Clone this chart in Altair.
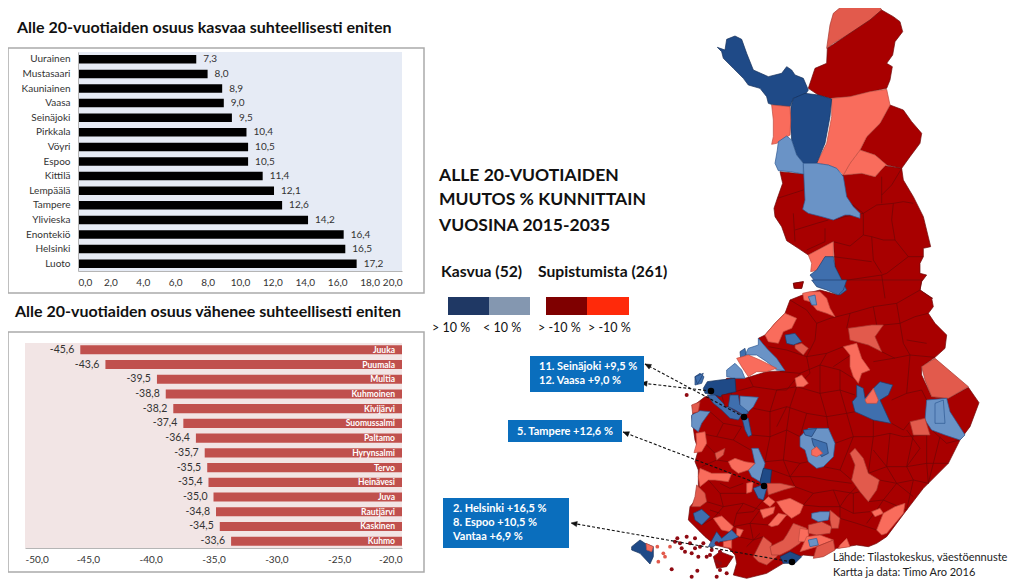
import altair as alt
import pandas as pd
import numpy as np

FONT = "Lato"
W, H = 1008, 574

# ---------- bar charts ----------
up_names = ["Uurainen","Mustasaari","Kauniainen","Vaasa","Seinäjoki","Pirkkala","Vöyri","Espoo","Kittilä","Lempäälä","Tampere","Ylivieska","Enontekiö","Helsinki","Luoto"]
up_values = [7.3,8.0,8.9,9.0,9.5,10.4,10.5,10.5,11.4,12.1,12.6,14.2,16.4,16.5,17.2]
up_ticks = [0,2,4,6,8,10,12,14,16,18,20]

down_names = ["Juuka","Puumala","Multia","Kuhmoinen","Kivijärvi","Suomussalmi","Paltamo","Hyrynsalmi","Tervo","Heinävesi","Juva","Rautjärvi","Kaskinen","Kuhmo"]
down_values = [-45.6,-43.6,-39.5,-38.8,-38.2,-37.4,-36.4,-35.7,-35.5,-35.4,-35.0,-34.8,-34.5,-33.6]
down_ticks = [-50,-45,-40,-35,-30,-25,-20]

# ---------- map ----------
# frame A: northern crop, frame B: southern crop (both 3x picture pixels)
NORTH_REGIONS = [
 ("dark", [(270,515),(340,522),(460,525),(515,520),(555,530),(585,497),(635,505),(640,540),(670,590),(700,650),(722,740),(700,745),(700,770),(690,790),(690,820),(710,825),(695,845),(690,870),(728,895),(470,895),(470,870),(435,800),(430,725),(355,765),(325,745),(290,722),(275,680),(255,650),(252,625),(262,595),(278,550)]),
 ("mid", [(410,145),(420,75),(430,40),(460,15),(500,15),(520,0),(555,0),(575,30),(540,60),(480,100),(430,130)]),
 ("dark", [(575,30),(610,50),(630,65),(638,95),(615,125),(608,165),(590,190),(607,200),(600,240),(590,265),(540,275),(480,290),(420,295),(385,285),(355,265),(365,235),(375,205),(410,190),(412,145),(480,100),(540,60)]),
 ("dark", [(600,315),(640,330),(665,365),(695,400),(690,430),(660,470),(635,505),(590,495),(555,465),(510,450),(530,410),(570,370)]),
 ("light", [(510,450),(555,465),(590,495),(585,497),(555,530),(515,520),(460,525),(480,490)]),
 ("light", [(425,295),(480,290),(540,275),(590,268),(600,315),(570,370),(530,410),(510,450),(480,490),(460,525),(440,505),(415,495),(380,490),(410,430),(425,350)]),
 ("navy", [(82,142),(105,150),(110,118),(135,108),(155,118),(170,160),(190,210),(235,230),(275,220),(290,200),(305,210),(315,225),(340,235),(355,270),(345,285),(310,295),(300,320),(250,315),(235,310),(230,290),(210,265),(175,255),(160,235),(130,205),(100,175),(95,155)]),
 ("navy", [(310,295),(345,280),(385,285),(425,297),(420,350),(405,430),(380,490),(340,490),(320,465),(305,420),(300,360),(303,320)]),
 ("light", [(245,315),(300,320),(302,360),(300,405),(260,430),(245,433),(250,410),(250,360)]),
 ("sky", [(290,408),(305,420),(320,465),(340,490),(340,522),(300,515),(265,512),(255,490),(262,450),(265,425)]),
 ("sky", [(340,490),(380,490),(415,495),(440,505),(460,530),(470,590),(490,620),(510,640),(510,655),(480,645),(465,645),(430,660),(395,650),(355,640),(338,628),(345,600),(343,560)]),
 ("light", [(355,765),(430,725),(430,770),(405,770),(385,810),(362,815),(365,790)]),
 ("blue", [(405,770),(430,770),(435,800),(470,870),(450,885),(420,865),(380,850),(360,825),(380,810)]),
 ("dark", [(310,850),(340,845),(335,865),(312,865)]),
]
NORTH_LINES = [
 [(310,640),(315,725)],[(315,690),(380,670),(415,660)],[(405,685),(405,725),(350,750)],
 [(430,660),(465,650),(520,640),(520,705),(480,738),(430,725)],
 [(520,640),(560,615),(610,610),(640,605),(670,610)],[(575,530),(575,610)],
 [(610,610),(605,660),(615,720),(655,770)],[(520,705),(545,710),(580,720),(615,720)],
 [(545,710),(550,780),(575,820)],[(430,770),(545,785)],[(700,770),(655,770),(590,820),(575,825),(440,845)],
 [(635,505),(605,555),(575,585)],[(262,595),(340,570)],[(575,825),(585,895)],
 [(645,350),(600,420),(590,495)],[(470,600),(520,640)],
]
SOUTH_REGIONS = [
 ("dark", [(660,0),(905,0),(900,30),(935,55),(940,80),(925,100),(945,130),(980,165),(975,205),(945,232),(905,260),(905,285),(935,350),(985,355),(1045,322),(1077,368),(1050,440),(1020,480),(985,550),(910,625),(860,690),(800,770),(770,790),(745,800),(710,795),(650,805),(600,830),(550,825),(490,850),(440,880),(380,895),(340,885),(350,850),(345,825),(325,805),(285,795),(255,770),(240,755),(205,720),(210,680),(235,650),(235,570),(225,545),(235,510),(225,480),(215,410),(230,370),(255,350),(280,350),(320,295),(375,295),(440,275),(495,272),(465,235),(440,205),(415,175),(435,165),(465,130),(495,100),(510,60),(560,40),(600,30),(655,45),(670,30)]),
 ("dark", [(280,830),(300,815),(340,830),(320,860),(290,865)]),
 ("dark", [(520,10),(550,5),(545,25),(525,25)]),
 ("blue", [(575,0),(680,0),(670,30),(655,45),(620,30),(590,20)]),
 ("light", [(548,40),(570,35),(600,35),(620,55),(630,85),(645,110),(620,100),(590,90),(570,65),(552,60)]),
 ("sky", [(565,50),(585,45),(590,75),(575,75)]),
 ("light", [(495,100),(530,115),(515,145),(490,155),(475,190),(445,185),(435,165),(465,130)]),
 ("blue", [(495,165),(525,160),(545,185),(520,195),(500,190)]),
 ("mid", [(525,195),(545,190),(565,205),(550,225),(525,205)]),
 ("sky", [(415,175),(440,205),(470,235),(495,272),(470,270),(440,245),(410,225),(375,225),(385,205),(415,195)]),
 ("blue", [(360,215),(375,205),(378,225),(362,235)]),
 ("light", [(350,235),(385,225),(420,240),(470,265),(440,275),(410,275),(385,290),(365,260)]),
 ("sky", [(320,270),(345,250),(365,270),(375,295),(345,295),(320,290)]),
 ("blue", [(225,290),(240,280),(252,290),(245,310),(225,315)]),
 ("navy", [(262,305),(300,300),(345,295),(348,335),(325,340),(300,350),(285,345),(255,340),(250,325)]),
 ("blue", [(285,345),(310,370),(340,390),(365,405),(355,420),(330,415),(305,390),(280,370),(262,345)]),
 ("dark", [(305,345),(335,340),(330,380),(315,380)]),
 ("blue", [(330,345),(355,345),(360,375),(375,380),(385,400),(370,405),(345,390),(325,380)]),
 ("sky", [(360,348),(415,352),(400,380),(385,395),(360,375)]),
 ("blue", [(365,410),(385,415),(395,465),(385,470),(375,450)]),
 ("sky", [(215,405),(240,392),(270,395),(245,430),(235,455),(215,440)]),
 ("mid", [(215,375),(240,365),(235,395),(218,400)]),
 ("light", [(228,460),(255,455),(260,490),(245,515),(222,518),(230,490)]),
 ("mid", [(285,520),(315,505),(310,525),(290,540)]),
 ("sky", [(395,505),(415,505),(435,550),(430,570),(420,605),(395,590),(385,570),(405,550)]),
 ("navy", [(430,565),(455,570),(450,615),(430,625),(420,605)]),
 ("blue", [(400,625),(425,615),(440,625),(430,660),(415,655)]),
 ("light", [(325,545),(345,535),(375,545),(405,550),(385,570),(355,580),(335,565)]),
 ("light", [(240,565),(275,580),(335,580),(325,605),(285,600),(265,600),(240,620),(235,590)]),
 ("light", [(380,610),(400,605),(395,635),(380,640)]),
 ("mid", [(440,610),(480,610),(525,620),(490,630),(445,645)]),
 ("light", [(445,650),(465,665),(450,680),(430,665)]),
 ("light", [(470,665),(510,655),(550,675),(540,700),(515,715),(490,695)]),
 ("light", [(420,690),(465,680),(460,700),(430,715)]),
 ("light", [(445,735),(475,700),(500,705),(475,735),(455,740)]),
 ("mid", [(230,615),(255,640),(260,665),(240,680),(215,680),(225,650)]),
 ("blue", [(220,700),(245,688),(270,710),(245,735),(225,720)]),
 ("light", [(280,715),(305,708),(340,740),(330,755),(305,750)]),
 ("blue", [(265,800),(290,755),(305,775),(335,750),(355,770),(335,780),(300,785),(280,800)]),
 ("light", [(350,745),(370,750),(360,770),(350,765)]),
 ("light", [(310,785),(335,780),(335,805),(310,800)]),
 ("mid", [(400,830),(430,770),(455,790),(455,800),(490,800),(470,830),(440,855),(415,845)]),
 ("mid", [(450,800),(490,780),(500,765),(520,730),(560,745),(540,790),(510,810),(480,825),(455,825)]),
 ("light", [(540,745),(570,750),(560,785),(535,785)]),
 ("mid", [(565,735),(605,725),(635,740),(630,760),(590,765),(565,760)]),
 ("sky", [(575,700),(600,695),(630,695),(625,720),(595,725),(575,715)]),
 ("mid", [(630,690),(660,715),(655,745),(635,745),(630,720)]),
 ("light", [(560,770),(600,765),(640,780),(590,800),(540,815)]),
 ("sky", [(565,780),(590,775),(595,795),(570,800)]),
 ("mid", [(590,800),(640,780),(645,810),(610,830),(580,835)]),
 ("navy", [(480,830),(510,815),(545,830),(525,850),(490,850)]),
 ("light", [(660,795),(680,775),(690,800),(655,805)]),
 ("light", [(770,750),(790,700),(825,680),(855,670),(850,700),(800,760),(785,765)]),
 ("light", [(755,695),(780,685),(790,700),(765,710)]),
 ("mid", [(690,520),(705,505),(730,535),(745,580),(778,600),(770,630),(745,665),(720,635),(695,600),(705,555)]),
 ("mid", [(685,145),(755,135),(790,135),(765,170),(785,215),(745,195),(690,180)]),
 ("light", [(670,200),(710,190),(725,235),(750,270),(725,280),(715,310),(700,290),(690,260),(690,225)]),
 ("light", [(525,295),(545,285),(565,310),(550,320),(530,320)]),
 ("blue", [(710,315),(730,325),(735,355),(760,325),(780,305),(818,315),(805,345),(780,360),(812,430),(760,420),(705,395),(697,365),(710,350)]),
 ("light", [(735,360),(760,325),(775,360),(770,370),(740,370)]),
 ("sky", [(540,470),(565,445),(625,445),(645,490),(640,530),(610,560),(590,565),(565,545),(555,510),(540,500)]),
 ("blue", [(550,450),(590,445),(575,470),(555,465)]),
 ("blue", [(575,475),(620,490),(625,520),(605,530),(580,495)]),
 ("light", [(575,510),(590,500),(608,520),(590,530),(575,525)]),
 ("mid", [(905,260),(945,235),(1045,320),(985,355),(935,350),(915,300)]),
 ("sky", [(920,360),(980,355),(990,395),(1035,465),(1020,480),(975,465),(935,450),(915,420)]),
 ("sky", [(945,370),(970,360),(975,430),(945,430)]),
 ("mid", [(870,425),(915,415),(930,465),(880,465)]),
 ("navy", [(35,800),(60,780),(75,790),(100,800),(100,830),(90,852),(60,820),(35,810)]),
 ("light", [(78,790),(100,800),(95,815),(80,810)]),
 ("blue", [(225,290),(250,280),(240,300),(232,312)]),
]
SOUTH_LINES = [
 [(510,60),(560,90),(590,130),(630,115),(690,100),(760,80),(830,70),(900,30)],
 [(445,200),(500,210),(560,230),(620,220),(670,200)],[(790,135),(840,130),(885,110),(925,100)],
 [(480,275),(540,280),(600,255),(660,270),(700,295)],[(760,245),(820,235),(870,225),(945,232)],
 [(345,335),(400,320),(470,330),(530,320),(600,340),(660,330),(705,345)],[(815,360),(860,340),(905,330),(920,360)],
 [(400,385),(450,395),(500,380),(560,400),(620,410),(680,400),(705,395)],[(815,430),(850,450),(870,425)],
 [(270,395),(310,430),(365,440)],[(395,465),(450,470),(500,450),(540,470)],
 [(645,490),(700,470),(760,470),(810,460),(850,470),(920,465)],[(935,450),(980,490),(1018,480)],
 [(240,460),(290,470),(340,480),(392,510)],[(255,490),(285,520),(290,540),(325,545)],
 [(435,545),(490,540),(540,550),(565,545)],[(610,560),(660,570),(695,600)],
 [(745,580),(800,560),(860,560),(920,550),(985,550)],[(455,570),(510,590),(570,590),(620,600),(695,610)],
 [(778,600),(830,610),(880,600),(925,610)],[(525,620),(580,640),(640,630),(700,640),(720,635)],
 [(745,665),(790,660),(860,690)],[(550,675),(600,680),(660,680),(700,700),(750,695)],
 [(265,600),(300,640),(340,640),(380,640)],[(260,665),(310,680),(370,670),(420,690)],[(245,735),(280,715)],
 [(340,740),(390,730),(445,735)],[(355,770),(400,780),(430,770)],[(660,715),(710,730),(770,750)],
 [(590,130),(585,180),(560,230),(570,280),(530,320),(510,380),(500,450),(490,540),(510,590),(525,620)],
 [(690,100),(680,145)],[(760,80),(770,135)],[(840,130),(830,70)],[(825,235),(785,215)],[(860,340),(870,225)],
 [(470,330),(450,395),(450,470),(435,545)],[(400,320),(385,290)],
 [(620,220),(600,255),(600,340),(620,410),(625,445)],[(660,270),(660,330),(680,400),(700,470),(660,570)],
 [(760,420),(760,470),(745,580)],[(810,460),(800,560),(830,610),(790,660)],[(880,465),(860,560),(880,600),(860,690)],
 [(920,465),(920,550),(925,610)],[(310,430),(290,470)],[(365,440),(340,480)],[(370,670),(350,700),(340,740)],
 [(300,640),(310,680),(280,715)],[(580,640),(550,675)],[(640,630),(660,680),(660,715)],[(700,640),(700,700)],
 [(420,690),(390,730),(400,780)],[(510,590),(540,550)],
 [(300,610),(330,625),(370,610)],[(270,690),(300,700)],[(350,700),(400,695),(430,660)],[(245,560),(290,540)],
 [(540,280),(500,330),(470,330)],[(500,380),(470,440)],[(560,400),(540,470)],[(830,610),(880,650)],
 [(800,560),(760,510)],[(860,450),(900,505),(860,560)],[(960,470),(940,550),(925,610)],[(380,800),(420,760)],
 [(740,730),(770,690),(790,660)],[(710,620),(680,650),(660,680)],[(700,220),(640,260)],[(860,180),(920,190)],
 [(840,130),(850,190),(870,225)],
]
ISLANDS_DARK = [(172,775),(180,790),(200,770),(210,790),(225,775),(195,815),(215,820),(240,800),(250,790),(235,830),(260,830),(275,810),(290,790),(300,815),(155,868),(232,872),(215,890),(290,890),(200,345),(320,880),(300,870),(290,845),(185,805),(165,785),(225,805),(270,825),(300,850)]
ISLANDS_LIGHT = [(112,800),(115,845),(150,800),(135,830),(130,820)]

# callouts: start on the map, tip at the label (picture pixels)
ARROWS = [((744,417),(645,364)),((711,391),(641,383)),((764,486),(623,432)),((792,562),(571,523))]
TOWN_DOTS = [(711,391),(744,417),(764,486),(792,562)]

CLASSES = ["dark","mid","light","navy","blue","sky"]
FILLS = ["#a80000","#e25a4c","#f96c5c","#1f4a87","#3f6fae","#6a93c6"]
EDGES = ["#6e0b0b","#a83a30","#c24d40","#16305c","#1f3f70","#2f5a94"]

def fa(p): return [690 + p[0]/3, p[1]/3]
def fb(p): return [620 + p[0]/3, 280 + p[1]/3]

def poly(cls, pts, f):
    ring = [f(p) for p in pts]
    ring.append(ring[0])
    return {"type":"Feature","properties":{"cls":cls},"geometry":{"type":"Polygon","coordinates":[ring]}}
def line(pts):
    return {"type":"Feature","properties":{},"geometry":{"type":"LineString","coordinates":[list(p) for p in pts]}}
def coll(fs):
    return alt.InlineData(values={"type":"FeatureCollection","features":fs}, format=alt.DataFormat(property="features", type="json"))

features = [poly(c,p,fa) for c,p in NORTH_REGIONS[:1]] + [poly(SOUTH_REGIONS[0][0],SOUTH_REGIONS[0][1],fb)]
base_features = features
over_features = [poly(c,p,fa) for c,p in NORTH_REGIONS[1:]] + [poly(c,p,fb) for c,p in SOUTH_REGIONS[1:]]
cscale = alt.Scale(domain=CLASSES, range=FILLS)
sscale = alt.Scale(domain=CLASSES, range=EDGES)
PROJ = dict(type="identity", scale=1, translate=[-8,-8])

inner = [line([fa(p) for p in l]) for l in NORTH_LINES] + [line([fb(p) for p in l]) for l in SOUTH_LINES]
map_base = alt.Chart(coll(base_features)).mark_geoshape(strokeWidth=0.7).encode(
    color=alt.Color("properties.cls:N", scale=cscale, legend=None),
    stroke=alt.Stroke("properties.cls:N", scale=sscale, legend=None)).project(**PROJ)
map_lines = alt.Chart(coll(inner)).mark_geoshape(filled=False, stroke="#6e0606", strokeWidth=0.7).project(**PROJ)
map_over = alt.Chart(coll(over_features)).mark_geoshape(strokeWidth=0.7).encode(
    color=alt.Color("properties.cls:N", scale=cscale, legend=None),
    stroke=alt.Stroke("properties.cls:N", scale=sscale, legend=None)).project(**PROJ)

def dots(pts, color, size):
    df = pd.DataFrame(pts, columns=["lon","lat"])
    return alt.Chart(df).mark_circle(color=color, size=size, opacity=1).encode(
        longitude="lon:Q", latitude="lat:Q").project(**PROJ)

isl_d = dots([fb(p) for p in ISLANDS_DARK], "#8f0a12", 16)
isl_l = dots([fb(p) for p in ISLANDS_LIGHT], "#e25a4c", 14)
town = dots(TOWN_DOTS, "#000000", 42)

arrow_lines = alt.Chart(coll([line(a) for a in ARROWS])).mark_geoshape(
    filled=False, stroke="#111111", strokeWidth=1.1, strokeDash=[3,2]).project(**PROJ)
heads = []
for start, tip in ARROWS:
    s, t = np.array(start, float), np.array(tip, float)
    d = (s-t)/np.linalg.norm(s-t); n = np.array([-d[1], d[0]])
    a, b = t+d*6+n*2.6, t+d*6-n*2.6
    heads.append({"type":"Feature","properties":{},"geometry":{"type":"Polygon","coordinates":[[list(t),list(a),list(b),list(t)]]}})
arrow_heads = alt.Chart(coll(heads)).mark_geoshape(fill="#111111", stroke="#111111", strokeWidth=0.5).project(**PROJ)

# ---------- helpers for page furniture ----------
ONE = alt.Data(values=[{"a":1}])
def box(x0,y0,x1,y1,**kw):
    return alt.Chart(ONE).mark_rect(**kw).encode(
        x=alt.value(x0-8), x2=alt.value(x1-8), y=alt.value(y0-8), y2=alt.value(y1-8))
def label(s,x,y,size=12,weight="normal",color="#111111",align="left"):
    return alt.Chart(ONE).mark_text(text=s,font=FONT,fontSize=size,fontWeight=weight,color=color,align=align,baseline="middle").encode(
        x=alt.value(x-8), y=alt.value(y-8))
TICK = "replace(format(datum.value,'.1f'),'.',',')"
NEG = "'-' + replace(format(abs(datum.value),'.1f'),'.',',')"
comma = lambda v: f"{v:.1f}".replace(".",",")

# ---------- top bars ----------
up = pd.DataFrame({"name":up_names,"v":up_values,"txt":[comma(v) for v in up_values]})
ux = alt.Scale(domain=[0,20], range=[70,394], nice=False)
uy = alt.Scale(domain=up_names, range=[44,263], paddingInner=0.42, paddingOuter=0.21)
ubase = alt.Chart(up)
ubars = ubase.mark_bar(color="#000000").encode(
    x=alt.X("v:Q", scale=ux, axis=alt.Axis(orient="bottom", values=up_ticks, labelExpr=TICK, title=None, grid=False, ticks=False, offset=263-H,
             labelFont=FONT, labelFontSize=10, labelColor="#333333", labelPadding=6, domainColor="#b5b5b5", zindex=1)),
    y=alt.Y("name:N", sort=None, scale=uy, axis=alt.Axis(orient="left", title=None, ticks=False, offset=-70, labelFont=FONT, labelFontSize=10,
             labelColor="#333333", labelPadding=8, domainColor="#b5b5b5", zindex=1)))
utext = ubase.mark_text(align="left", baseline="middle", dx=7, font=FONT, fontSize=10, color="#333333").encode(
    x=alt.X("v:Q", scale=ux), y=alt.Y("name:N", sort=None, scale=uy), text="txt:N")
top_panel = alt.layer(ubars, utext)

# ---------- bottom bars ----------
dn = pd.DataFrame({"name":down_names,"v":down_values,"end":[-20]*len(down_values),"txt":[comma(v) for v in down_values]})
dx_s = alt.Scale(domain=[-50,-20], range=[17,394], nice=False, zero=False)
dy_s = alt.Scale(domain=down_names, range=[335,540], paddingInner=0.38, paddingOuter=0.15)
dbase = alt.Chart(dn)
dbars = dbase.mark_bar(color="#c0504d").encode(
    x=alt.X("v:Q", scale=dx_s, axis=alt.Axis(orient="bottom", values=down_ticks, labelExpr=NEG, title=None, grid=False, ticks=False, offset=540-H,
             labelFont=FONT, labelFontSize=10, labelColor="#333333", labelPadding=6, domainColor="#b5b5b5", zindex=1)),
    x2="end:Q",
    y=alt.Y("name:N", sort=None, scale=dy_s, axis=None))
dval = dbase.mark_text(align="right", baseline="middle", dx=-6, font=FONT, fontSize=10.5, color="#333333").encode(
    x=alt.X("v:Q", scale=dx_s), y=alt.Y("name:N", sort=None, scale=dy_s), text="txt:N")
dname = dbase.mark_text(align="right", baseline="middle", dx=-7, font=FONT, fontSize=8.5, fontWeight="bold", color="#ffffff").encode(
    x=alt.X("end:Q", scale=dx_s), y=alt.Y("name:N", sort=None, scale=dy_s), text="name:N")
bottom_panel = alt.layer(dbars, dval, dname)

# ---------- everything together ----------
layers = [
    box(8,48,424,293,fillOpacity=0,stroke="#ababab",strokeWidth=1.5),
    box(8,332,424,572,fillOpacity=0,stroke="#ababab",strokeWidth=1.5),
    box(78,52,402,271,fill="#e6ebf5"),
    box(25,343,402,548,fill="#f2e5e5"),
    top_panel,
    bottom_panel,
    label("Alle 20-vuotiaiden osuus kasvaa suhteellisesti eniten",17,28,size=16,weight="bold"),
    label("Alle 20-vuotiaiden osuus vähenee suhteellisesti eniten",15,312,size=16,weight="bold"),
    label("ALLE 20-VUOTIAIDEN",439,176,size=17.5,weight="bold"),
    label("MUUTOS % KUNNITTAIN",439,200,size=17.5,weight="bold"),
    label("VUOSINA 2015-2035",439,226,size=17.5,weight="bold"),
    label("Kasvua (52)",441,272,size=15.7,weight="bold"),
    label("Supistumista (261)",538,272,size=15.7,weight="bold"),
    box(448,297,489,315,fill="#1f3864"),
    box(489,297,530,315,fill="#8497b0"),
    box(546,297,587,315,fill="#7f0000"),
    box(587,297,629,315,fill="#ff2a0a"),
    label("> 10 %",432,328,size=12.5),
    label("< 10 %",483,328,size=12.5),
    label("> -10 %",538,328,size=12.5),
    label("> -10 %",588,328,size=12.5),
    map_base, map_lines, map_over, isl_d, isl_l,
    arrow_lines, arrow_heads, town,
    box(530,356,644,392,fill="#0a6ebd"),
    box(508,420,622,442,fill="#0a6ebd"),
    box(443,498,569,548,fill="#0a6ebd"),
    label("11. Seinäjoki +9,5 %",539,367,size=11,weight="bold",color="#ffffff"),
    label("12. Vaasa +9,0 %",539,381,size=11,weight="bold",color="#ffffff"),
    label("5. Tampere +12,6 %",517,432,size=11,weight="bold",color="#ffffff"),
    label("2. Helsinki +16,5 %",453,509,size=11,weight="bold",color="#ffffff"),
    label("8. Espoo +10,5 %",453,523,size=11,weight="bold",color="#ffffff"),
    label("Vantaa +6,9 %",453,537,size=11,weight="bold",color="#ffffff"),
    label("Lähde: Tilastokeskus,  väestöennuste",833,558,size=11,color="#222222"),
    label("Kartta ja data: Timo Aro 2016",833,573,size=11,color="#222222"),
]
chart = alt.layer(*layers).resolve_scale(x="independent", y="independent", color="independent", stroke="independent").properties(
    width=W, height=H, padding=0, autosize=alt.AutoSizeParams(type="none"), background="#ffffff"
).configure_view(strokeWidth=0)

chart.save("out.html", embed_options={"renderer": "svg", "actions": False})
